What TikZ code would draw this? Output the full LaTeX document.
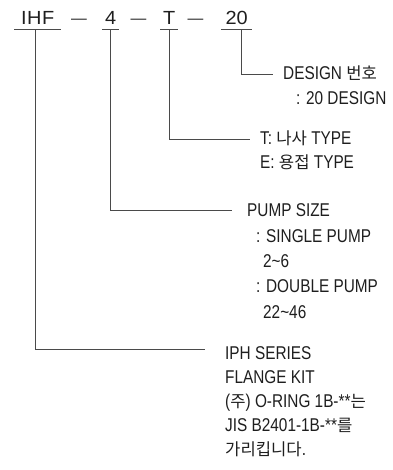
\documentclass[tikz,border=0pt]{standalone}
\usepackage{fontspec}
\setmainfont{Liberation Sans}[FakeStretch=0.83]
\newfontfamily\codefont{Liberation Sans}[FakeStretch=1.05]
\newfontfamily\kr{Noto Sans CJK KR}[Scale=0.9]
\usetikzlibrary{positioning}
\definecolor{ink}{HTML}{1E1E1E}
\definecolor{wire}{HTML}{4A4A4A}

\begin{document}
\begin{tikzpicture}[
    x=1pt, y=-1pt,
    code/.style={inner xsep=0pt, inner ysep=0pt, text=ink, text height=12pt,
                 text depth=4pt, font=\codefont\fontsize{19pt}{22pt}\selectfont},
    sep/.style={inner sep=0pt, text=ink, font=\codefont\fontsize{15pt}{22pt}\selectfont},
    desc/.style={anchor=base west, inner sep=0pt, text=ink, text height=12pt,
                 text depth=0pt, font=\fontsize{18.5pt}{22pt}\selectfont},
    uline/.style={draw=wire, line width=0.9pt},
    leader/.style={draw=wire, line width=0.9pt, shorten >=10pt}
  ]
    \useasboundingbox (0,0) rectangle (392,470);

    % model code
    \node[code, anchor=base west, minimum width=47pt] (ihf) at (14,25)
      {\addfontfeature{LetterSpace=3}IHF};
    \node[sep, anchor=base] (d1) at (79,24) {\textemdash};
    \node[code, anchor=base west, minimum width=17pt] (size) at (102,25) {4};
    \node[sep, anchor=base] (d2) at (138.5,24) {\textemdash};
    \node[code, anchor=base west, minimum width=18pt] (conn) at (160,25) {T};
    \node[sep, anchor=base] (d3) at (195.5,24) {\textemdash};
    \node[code, anchor=base west, minimum width=31pt] (dsgn) at (221,25) {20};

    \foreach \n in {ihf, size, conn, dsgn}
      \draw[uline] (\n.south west) -- (\n.south east);

    % explanations
    \node[desc] (design) at (283,80) {DESIGN {\kr 번호}};
    \node[desc] (design2) at (296,105) {: 20 DESIGN};
    \node[desc] (ttype) at (260,145) {T: {\kr 나사} TYPE};
    \node[desc] (etype) at (260,168) {E: {\kr 용접} TYPE};
    \node[desc] (pump) at (247,216) {PUMP SIZE};
    \node[desc] (single) at (256,242) {: SINGLE PUMP};
    \node[desc] (srange) at (263,267) {2\textasciitilde 6};
    \node[desc] (double) at (256,292) {: DOUBLE PUMP};
    \node[desc] (drange) at (263,318) {22\textasciitilde 46};
    \node[desc] (iph) at (225,359) {IPH SERIES};
    \node[desc] (flange) at (225,383) {FLANGE KIT};
    \node[desc] (note1) at (225,407) {({\kr 주}) O-RING 1B-**{\kr 는}};
    \node[desc] (note2) at (225,431) {JIS B2401-1B-**{\kr 를}};
    \node[desc] (note3) at (225,455) {{\kr 가리킵니다}.};

    \draw[leader] ([xshift=4.5pt]dsgn.south) |- (design.west);
    \draw[leader] (conn.south) |- (ttype.west);
    \draw[leader, shorten >=15pt] (size.south) |- (pump.west);
    \draw[leader, shorten >=20pt] ([xshift=-2.5pt]ihf.south) |- ([yshift=4pt]iph.west);
  \end{tikzpicture}
\end{document}
